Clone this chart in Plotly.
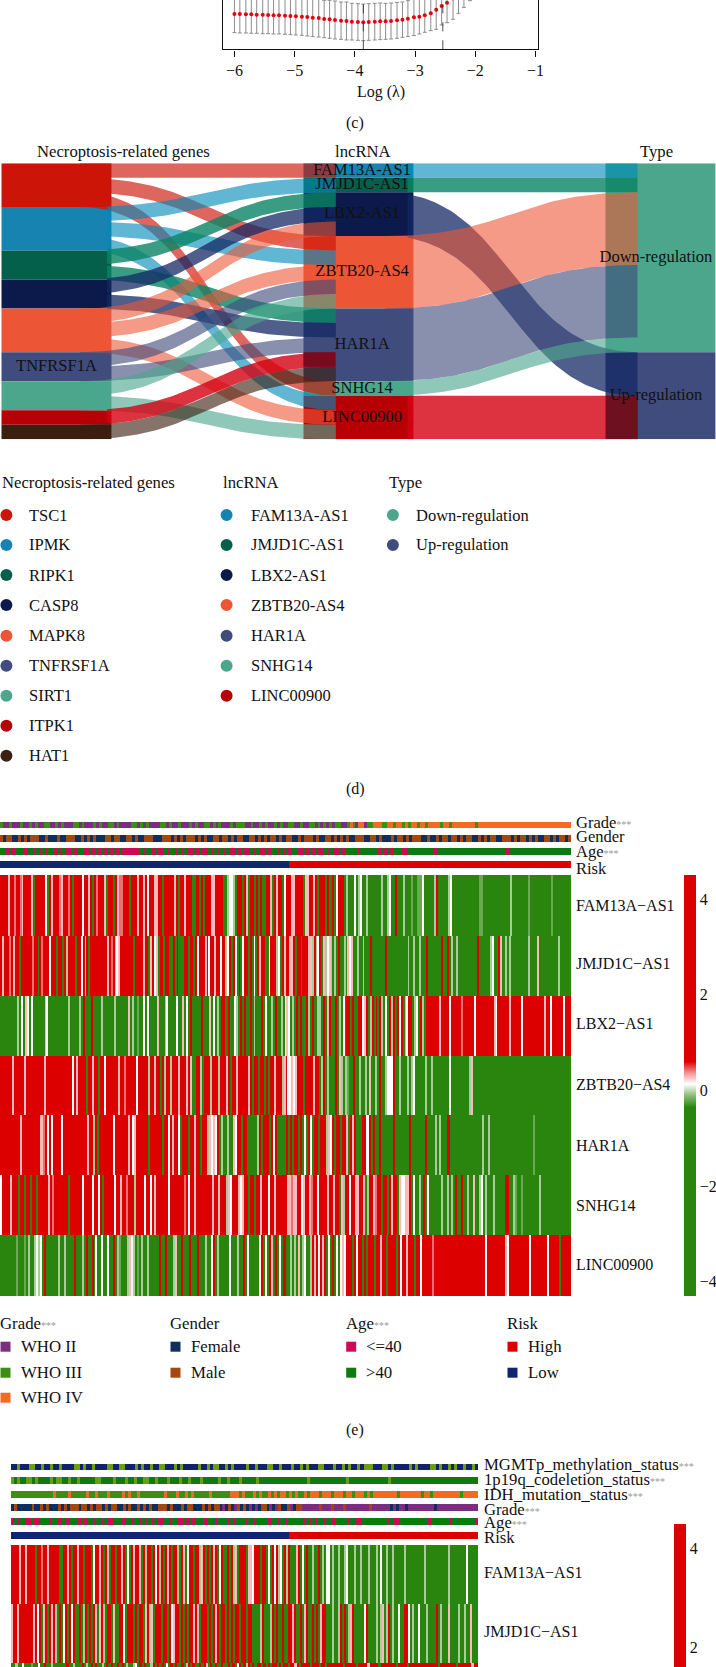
import numpy as np
import plotly.graph_objects as go

W, H = 716, 1667
SERIF = "Liberation Serif"
STAR = '<span style="color:#9a9a9a;font-size:10px">***</span>'

# ---- panel (c): cross-validation curve ----
log_lambda = [-6.00,-5.91,-5.81,-5.72,-5.63,-5.53,-5.44,-5.35,-5.26,-5.16,-5.07,-4.98,-4.88,-4.79,-4.70,-4.60,-4.51,-4.42,-4.33,-4.23,-4.14,-4.05,-3.95,-3.86,-3.77,-3.67,-3.58,-3.49,-3.40,-3.30,-3.21,-3.12,-3.02,-2.93,-2.84,-2.74,-2.65,-2.56,-2.47,-2.37,-2.28,-2.19,-2.09]
cv_mean = [106,106,105,105,104,104,103,102,102,101,100,99,98,97,95,94,91,90,88,86,85,83,82,81,82,83,84,84,85,87,89,92,96,98,102,108,119,130,140,153,166,180,194]
cv_low = [50,49,49,48,48,47,47,46,46,45,44,43,42,40,38,37,35,33,31,30,28,28,27,26,27,28,29,30,31,33,36,38,41,46,51,56,60,73,80,90,108,126,146]
lambda_min, lambda_1se = -3.86, -2.54

# ---- panel (d): alluvial ----
genes = ["TSC1","IPMK","RIPK1","CASP8","MAPK8","TNFRSF1A","SIRT1","ITPK1","HAT1"]
gene_colors = ["#CC1408","#1783B0","#04604A","#0B1A4B","#EC5637","#3F4C7D","#4BA68C","#B60006","#3B1F10"]
lncs = ["FAM13A-AS1","JMJD1C-AS1","LBX2-AS1","ZBTB20-AS4","HAR1A","SNHG14","LINC00900"]
lnc_colors = ["#1783B0","#04604A","#0B1A4B","#EC5637","#3F4C7D","#4BA68C","#B60006"]
types = ["Down-regulation","Up-regulation"]
type_colors = ["#4BA68C","#3F4C7D"]
flow_colors = {"#CC1408":"rgba(204,20,8,0.65)","#1783B0":"rgba(0,137,186,0.62)","#04604A":"rgba(9,132,100,0.80)",
               "#0B1A4B":"rgba(20,40,100,0.75)","#EC5637":"rgba(236,86,55,0.60)","#3F4C7D":"rgba(63,76,125,0.62)",
               "#4BA68C":"rgba(75,166,140,0.62)","#B60006":"rgba(212,0,16,0.80)","#3B1F10":"rgba(59,31,16,0.62)"}
recolored = {"#1783B0","#04604A","#0B1A4B","#B60006"}
gene_links = {
    "TSC1":["FAM13A-AS1","ZBTB20-AS4","SNHG14"],
    "IPMK":["JMJD1C-AS1","ZBTB20-AS4","LINC00900"],
    "RIPK1":["LBX2-AS1","HAR1A"],
    "CASP8":["LBX2-AS1","HAR1A"],
    "MAPK8":["LBX2-AS1","ZBTB20-AS4","LINC00900"],
    "TNFRSF1A":["ZBTB20-AS4","HAR1A"],
    "SIRT1":["ZBTB20-AS4","LINC00900"],
    "ITPK1":["HAR1A"],
    "HAT1":["HAR1A"],
}
lnc_type = {"FAM13A-AS1":"Down-regulation","JMJD1C-AS1":"Down-regulation","LBX2-AS1":"Up-regulation",
            "ZBTB20-AS4":"Down-regulation","HAR1A":"Down-regulation","SNHG14":"Down-regulation","LINC00900":"Up-regulation"}
lnc_counts = [1,1,3,5,5,1,3]
gene_counts = [3,3,2,2,3,2,2,1,1]
type_counts = [13,6]

# ---- panel (e): heatmap, R/r/p/w/l/g/G run from strong red through white to strong green ----
e_rows = ["FAM13A\u2212AS1","JMJD1C\u2212AS1","LBX2\u2212AS1","ZBTB20\u2212AS4","HAR1A","SNHG14","LINC00900"]
e_heat = [
"RRRRpRRrRRrpRRRRpGRRRRRwGRpRRRrpRRRrRGRRRRwRRpRGRrRRRpGRRRGRprrRRRGRRRpRRpRwRRRppRRGRRRRRpRGRRpRRRGGRRGRGRRRppRRRRGGlwwlGRRRGRpGRRGRGRG"
"GRRpGRpRRGwRRRppRRRRGppRRpRGRRRGRGGRGwRRRGlGGGwGlwGGlGGGGGGGlGGlwGGRGGGlGGGgGGgggwGGGGGlRGGGGGlwGGGGGGGGGGGGGGggGGGGGGGGGGGGGGlGGGGGGGGgGGGGGGGGGGGgGGGGGGGGG",
"RpRRRrRpRRGRRRRRRrRRGRrRRRwRRRGRRGRlRRRRGRRwRpRGRRRRRRRRRpRrRpwpRRRRRRRGRRRRpRRGpRwpGRRGRRGGRGRGGGRRGRRGRwRRRpRwRRpRRwRRlwRGRwGRGwRRGRG"
"wGRpRRGGwRRRlwGRpRRppRGRRGRRRpplRlwRGplwplGlGRGGlGpwpGGlGGlGGGRGGGGGGGRGGGGGGGGGGGlGGlGGlGGGRGGGGGGGRGGRGlGGlGGGGGGGGGGRGGGGGGlwGGRpGGlGlGGGGGGGGGlGGGGpGGGGGGGGGGlGGGGGG",
"GGGGGGGGGlGwGpwGwGGGGGGpwGGGGGGGGGGlGGGGGlGRGGGRGGGGlGGGGGGlGGGGGGpGlGGgGGwGwGGGGpGGGlwGGGGwGGpGwGRGGGGGRGGGpGwGlGRRGGRGGwlGRGRGGRGlGGGRGwGGlGRGG"
"lGwpwGlGRGRGGRlGRGGllGRGpRGGRGlGwGRRGRGGRRwpRGlRGRGRlGwGRlRGRwRGlwRRGlwGRlGRRRRRRRpRRRRwRRRRRrRRRRRRwRRRRRRRRRpwRRRRRRpRRRRRwRRRRRRRRRRRpRRwRRRRRRwRRR",
"RRRRRRpRRRRRpRRRRRRRRRpRRRRRRRRRRRRRwRpRRRRGRRpRRGRRwRRRRRRpRRrRRRRRwRRRRRlRRpRRGRlRRlRRRpRRRpRpGGRRlGRRRlRRRlRRRpRGRRpRRRRRpRGRRGRRGRG"
"RRpRRRlpRwwpwpRRRGRRRRpRRGlRGlGGGRGplGlgGGRGGlGGlGpGGlGRGGlwwwRGGlGGGlGlwGGGGGlGGlGGGGGGGGwGGGGGGGGGlpGGGGGGGGGGGGGGGGGGGGGGGGGGGGGGGGGGGGGGGGGGGGGGGGG",
"RRRRRRRRRRpRRRRRRRRRprRwRwRRRRwRRRRRRRRRRRRpRRlRGRRRRRRRwRRRRRRpRwpRRRRRRGRRRRRRGRRwRpRRwGRRRGRRpRRGRRlpwpwRGlGGlGGpwRRGRRGGGGGlRGRRRGRwRGG"
"GGRGRGRRGRGwGRwGRRGRRRlpwRGRRGRRpGRpRGGGRRwRGRGGRGGGGGGRGGGGGGGRGGGGGGGRGGGGlGlGGGRGGGGGGGGGGGGGGGGlGGlGGGGGGGGGGGGGGGGGGGGGgGGGGGGGGGGGGGGGGGG",
"wRRRRpRRRGRRGRRGRRGRRRRRpRrRRRRRRRGRRRRRRwRRRRwRRwRGRRRRRwRRpRRrRRRlRRRRwRRwRpRRRRRRwRRRRRRRrRwRRpRRRRRRRRpRRpRRRlpwRRRpwpRRGRRGRRpRRRwRRpRRRRRRp"
"prppRRwpRRprRRwRRRRpRRpRRGplRRwRRppRRpGlRRprRRGRRGRpRRGpwwppRGwGGlGRGwGGGGGGlGGlGlGRGGRGGlGGpGGlwGlGGGlGGGGGRRGGlgGGgGGGGGGGGlGGGGGGGGGGGGGGG",
"GGGGGGGGgGGGgGlGGlwlwGRGGGGGGlGGlGGGGRGGGlGRGGRGwGGwGGwGGRGlgGGGlpwlGgGlGGlGGGGGRGGRGGGlpGGRGGGRGGGRGGGlGGwRGlGGGGGwGGGlGGRGwGGGGGwRGwGRpGRGwGRRG"
"GlGlGpGlwGGlRpRwRpRGwGRGwGwpwRRRGRwRRGRGRRRGRRpRRGRRRRGRwRRpRRRGRRwRRRRRrRRRRRRRRRRRRRRRRRRRRRRRRRRwRRRRRRRRRpwRRRRRRRRRRwRRRRRRRRwRRRRRGRRRRR",
]
e_strips = [
("Grade"+STAR, "NPPNPPPNPPNPNPPNNPPNPNPPPNNPNPPPNPNPPNNPNPPPPNNPNPNPPPPNNPNPPNPPPNPNPPNNPNPNPPPNPNNNPPNPPNPNPPNPNPPNNPPNPPNNPNPNPNPNNPPNONPOOPNNOOONNOONOONONOONOONOOOONOONOOOOOOOONOOOOOOOOOOOOOOOOOOOOOOOOOOOOOOOO",
 {"P":"#7B2D7F","N":"#3B8F13","O":"#F26B21"}),
("Gender", "MFMMFFMFMFMMMFFMFFFMFFMMMFFMFMFMFFFMMFMMFFMMFMFFMMMFFFMMMFMFMFMMMFMFMFFMMFMMFMFMMFFMMFMFMFMMFMFMMFFMFMMMFMFFMMFMFMFMFFMMMFFMMFMFFFMFMMFMFMMMFFMFFMFMMFMMFMFMMFFMFMFMMFFMMMFMFMMFMFMFFMMFMFMMFM",
 {"F":"#0F2E5E","M":"#A5470F"}),
("Age"+STAR, "AAYAYAAAYAAYAYAYAAYAYAYYAYAAYYAYAYAYAYAYAYYYYYYAYAAYAYYAYAAYAYAYYAYAYYAYAYAYAYYAYAYYAYAYYAYAAYAYAYAAYYAYAYAYYAYAYYAYAAAAYAAAAAAYAYAYAAAYYAAAAAAAAAYAAAAAAAAAAAAAAAAAAAAAAAYAAAAAAAAAAAAAAAAAAAAA",
 {"Y":"#CC0A55","A":"#0B7A12"}),
("Risk", "LLLLLLLLLLLLLLLLLLLLLLLLLLLLLLLLLLLLLLLLLLLLLLLLLLLLLLLLLLLLLLLLLLLLLLLLLLLLLLLLLLLLLLLLLLLLLHHHHHHHHHHHHHHHHHHHHHHHHHHHHHHHHHHHHHHHHHHHHHHHHHHHHHHHHHHHHHHHHHHHHHHHHHHHHHHHHHHHHHHHHHHH",
 {"L":"#0F2570","H":"#DD0000"}),
]

# ---- panel (f): second heatmap, cut off by the page bottom ----
f_rows = ["FAM13A\u2212AS1","JMJD1C\u2212AS1","LBX2\u2212AS1"]
f_heat = [
"RRRRpRRpRRRRGRRrRRpRRRRRGGRRpRGRRpRRGRRRGwRRpRGRpGRRGRRpRGwGRpRRpGRlRRGRwRlRGRpRGRRlGRpGwRRGRRlpRGRGRpRGwRGGRGRlpGRRRGppwRRRGRRGwGRwRlwGRlRGGGpRGwGRGGlGGRGlGwwGlGGlGGlwGGGlGGlGGGlGGGlGwGGlGGlGGGGGlGGGGGGGGGlGGGGGGGGGGGlGGGGGGGGwGGGGG",
"pRRpRRRRRRRpRwRGpRGRpRlGRGwRGRwRGGRGlRGRGRpGpRlGRRGpGGRRwGRRRGRGRRGpRlpGRRRGRRGRwpRRGRGRGRRpRpGRRRGRGRpRGRRGRGRGRRGRRGRRGGGGlRGGGlRGRGGRGGRRpRGGRGpRGGRGRGpRRGGGlGGlRGRGlpRGGGGGwRGGGGlGlpGlRGlGGwGGRRwGlGGwGGGlGGGGRGlGGGpGGGGlGGlGGpGGG",
"GGlGGwGGGgGGwGGRGGlGGGGGGRGGlGGGRGlGRGRGGlGRGRGGRGRGlGGlwGRGRGGlRGRGRGwGRGRGGRGlRGRGGRGRpGRGRGGRGGRGRGwRGRlRGRGRRGRGRGRRGRGRRGRRpRGRRRRGRRRGRRGRRRRRRRGRRRRRGRRRRpRRRRGRRRRRRRGRRRRGRRRRRRRRRRRRRGRRRRRRRGRRRRRRpRR",
]
f_strips = [
("MGMTp_methylation_status"+STAR, "NNYNNNYYNNYNNYNNYNNNNYYNYNNYNNNNYYNNYYNNNYNYNNYNNYYNNNYNYNNNNNYNNYNYYNNYNYNNNNYNNYNNNYYNNYNNNYNNYNYNNNYYNNNYNNYNYNNYNYYYNNNYYNYNNNNNYNYNNNNYYNYNNYNYNNYNNYN",
 {"N":"#13206A","Y":"#6A9F12"}),
("1p19q_codeletion_status"+STAR, "YDYDDYYDYDDDDYDYYDDYDDYDDDDDYYDDDDYDDDYDDYDDYYDDYDDDYDDDYDDYDDDYDDDDDYDDYDDDYDDDDDYDDDDDDDDDDDDDDDDYDDDDDDDDDDDDYDDDDDDDDDDDDDYDDDDDDDDDDDDDDDDDDDDDDDDDDDDD",
 {"D":"#0F7A10","Y":"#6A9F12"}),
("IDH_mutation_status"+STAR, "GGGGGGGGGGGGGGOGGGGOGGGGGOGGOGGGOGGGGOGOGGOGGGGGGGGOGGGOGGOGOGGGGGOGGGGGGOOOGOGGGOGOGGOGOGOOGOGOGGOGOOOGOOOGOOOGOOGOOOGOGOOOOOOOOGOOOOOOOGOOGOOOOOOOOOGOOOOO",
 {"G":"#3B8F13","O":"#F26B21"}),
("Grade"+STAR, "NBNNNNNBNNBNBNNNBNBNBBBNBBNBNBBNBNBBNNBNBNNBNBNBNNBBBNBNNNBNBBNNNBNBNBBNPNBNPBNBNPNPNBBNPNPBNNBPNBBPPPPPPBPPPBPPPBPPPPPPPPBPPPPPPNPNPPNPPPPPPPPPNPPPPPPPPPPPPPP",
 {"N":"#0F2E5E","B":"#A5470F","P":"#7B2D7F"}),
("Age"+STAR, "CACAACCACCAAACAACAACAAACACAACAACACCAAACAACAACACACACCAACAACCACACAAACAAACAAACACAAACAACAAAACAACAACAAAAACACACAACAACAAAACAACCAAAAAAAAACACCAAAAAAAAAACAAAAAACAAAAAAAAC",
 {"C":"#CC0A55","A":"#0B7A12"}),
("Risk", "LLLLLLLLLLLLLLLLLLLLLLLLLLLLLLLLLLLLLLLLLLLLLLLLLLLLLLLLLLLLLLLLLLLLLLLLLLLLLLLLLLLLLLLLLLLHHHHHHHHHHHHHHHHHHHHHHHHHHHHHHHHHHHHHHHHHHHHHHHHHHHHHHHHHHHHHH",
 {"L":"#0F2570","H":"#DD0000"}),
]
code_values = {"R":3.0,"r":0.42,"p":0.28,"w":0.13,"l":-0.05,"g":-0.2,"G":-3.0}

e_legend = [
 ("Grade"+STAR, [("WHO II","#7B2D7F"),("WHO III","#3B8F13"),("WHO IV","#F26B21")]),
 ("Gender", [("Female","#0F2E5E"),("Male","#A5470F")]),
 ("Age"+STAR, [("<=40","#CC0A55"),(">40","#0B7A12")]),
 ("Risk", [("High","#DD0000"),("Low","#0F2570")]),
]

# ---------------- figure ----------------
fig = go.Figure()
layout = dict(width=W, height=H, paper_bgcolor="white", plot_bgcolor="white", showlegend=False,
              margin=dict(l=0, r=0, t=0, b=0, autoexpand=False), font=dict(family=SERIF, color="#111"),
              hovermode=False)
ann, shapes = [], []
axis_id = [0]

def new_axes(x0, x1, y0, y1, xrange, yrange):
    axis_id[0] += 1
    n = axis_id[0]
    sx = "" if n == 1 else str(n)
    hidden = dict(visible=False, fixedrange=True)
    layout["xaxis"+sx] = dict(hidden, domain=[x0/W, x1/W], range=xrange, anchor="y"+sx)
    layout["yaxis"+sx] = dict(hidden, domain=[1-y1/H, 1-y0/H], range=yrange, anchor="x"+sx)
    return "x"+sx, "y"+sx, sx

def text(x, y, s, size=16.5, anchor="left"):
    xpos = x-2 if anchor == "left" else x
    ann.append(dict(x=xpos/W, y=1-y/H, xref="paper", yref="paper", text=s, showarrow=False,
                    xanchor=anchor, yanchor="middle", font=dict(family=SERIF, size=size, color="#111")))

def swatch(x0, y0, x1, y1, color, kind="rect"):
    shapes.append(dict(type=kind, xref="paper", yref="paper", x0=x0/W, x1=x1/W, y0=1-y0/H, y1=1-y1/H,
                       fillcolor=color, line=dict(width=0)))

# panel c
xa, ya, sx = new_axes(223.4, 538, 0, 49.3, [-6.183, -0.96], [0, 148])
layout["xaxis"].update(visible=True, showline=True, linecolor="#111", linewidth=1.4, ticks="outside", ticklen=6,
                       tickwidth=1, tickcolor="#111", tickvals=[-6,-5,-4,-3,-2,-1], showgrid=False, zeroline=False,
                       tickfont=dict(family=SERIF, size=16, color="#111"))
layout["yaxis"].update(visible=True, showline=True, mirror=True, linecolor="#111", linewidth=1.4, ticks="",
                       showticklabels=False, showgrid=False, zeroline=False)
cv_se = (np.array(cv_mean) - np.array(cv_low)).tolist()
fig.add_trace(go.Scatter(x=log_lambda, y=cv_mean, mode="markers", xaxis=xa, yaxis=ya,
                         marker=dict(color="#E8000F", size=4),
                         error_y=dict(type="data", array=cv_se, color="#8c8c8c", thickness=1, width=2)))
for v in (lambda_min, lambda_1se):
    shapes.append(dict(type="line", xref="x", yref="y", x0=v, x1=v, y0=0, y1=148,
                       line=dict(color="#222", width=0.8, dash="dash")))
text(381, 92, "Log (\u03bb)", 16, "center")
text(355, 122.7, "(c)", 16, "center")

# panel d
xa, ya, sx = new_axes(0, W, 163.3, 439.3, [-0.187, 2.184], [19, 0])
def bars(col, counts, colors):
    base = np.cumsum([0]+counts[:-1])
    fig.add_trace(go.Bar(x=[col]*len(counts), y=counts, base=base.tolist(), width=0.364, marker=dict(color=colors, line=dict(width=0)),
                         xaxis=xa, yaxis=ya))
    return {i: int(b) for i, b in enumerate(base)}
b0 = bars(0, gene_counts, gene_colors)
b1 = bars(1, lnc_counts, lnc_colors)
b2 = bars(2.0, type_counts, type_colors)

def flow(x0, x1, y0, y1, color, height=1, clip=None):
    t = np.linspace(0, 1, 80)
    xm = (x0+x1)/2
    bx = (1-t)**3*x0 + 3*(1-t)**2*t*xm + 3*(1-t)*t**2*xm + t**3*x1
    by_top = (1-t)**3*y0 + 3*(1-t)**2*t*y0 + 3*(1-t)*t**2*y1 + t**3*y1
    if clip is not None:
        keep = bx >= clip
        bx, by_top = bx[keep], by_top[keep]
    xs = np.concatenate([bx, bx[::-1]])
    ys = np.concatenate([by_top, by_top[::-1]+height])
    fig.add_trace(go.Scatter(x=xs, y=ys, mode="lines", line=dict(width=0), fill="toself", fillcolor=flow_colors[color],
                             xaxis=xa, yaxis=ya, hoverinfo="skip"))

lnc_fill = {n: 0 for n in lncs}
for gi, g in enumerate(genes):
    for k, target in enumerate(gene_links[g]):
        li = lncs.index(target)
        c = gene_colors[gi]
        flow(0.078, 0.925, b0[gi]+k, b1[li]+lnc_fill[target], c, clip=0.16 if c in recolored else None)
        lnc_fill[target] += 1
type_fill = {t: 0 for t in types}
linc_end = 0
for li, n in enumerate(lncs):
    ti = types.index(lnc_type[n])
    c = lnc_colors[li]
    if n == "LINC00900":
        linc_end = b2[ti]+type_fill[types[ti]]
    flow(1.088, 1.924, b1[li], b2[ti]+type_fill[types[ti]], c, lnc_counts[li], clip=1.16 if c in recolored else None)
    type_fill[types[ti]] += lnc_counts[li]

# darker segments where the two strongest red flows land on their strata
def segment(col, y0, height, color):
    half = 0.053
    fig.add_trace(go.Scatter(x=[col-half, col+half, col+half, col-half], y=[y0, y0, y0+height, y0+height],
                             mode="lines", line=dict(width=0), fill="toself", fillcolor=color, xaxis=xa, yaxis=ya, hoverinfo="skip"))
segment(0.871, b1[lncs.index("HAR1A")]+3, 1, "#7A0A20")
segment(1.872, linc_end, 3, "#6F1020")

def labels(col, names, counts, base, only=None, size=16.5):
    xs, ys, ts = [], [], []
    for i, n in enumerate(names):
        if only and n not in only:
            continue
        xs.append(col); ys.append(base[i]+counts[i]/2); ts.append(n)
    fig.add_trace(go.Scatter(x=xs, y=ys, text=ts, mode="text", textposition="middle center",
                             textfont=dict(family=SERIF, size=size, color="#111"), xaxis=xa, yaxis=ya))
labels(0, genes, gene_counts, b0, only={"TNFRSF1A"})
labels(1.012, lncs, lnc_counts, b1)
labels(1.985, types, type_counts, b2)
text(123.6, 152, "Necroptosis-related genes", 16.7, "center")
text(363, 152, "lncRNA", 16.7, "center")
text(656, 152, "Type", 16.7, "center")

# legend d
def dot_legend(x_title, x_dot, x_text, title, names, colors):
    text(x_title+2, 482.7, title, 16.7)
    ys = [515, 545, 575, 605, 635.7, 665.7, 695.7, 725.7, 755.7]
    for n, c, y in zip(names, colors, ys):
        swatch(x_dot-6, y-6, x_dot+6, y+6, c, "circle")
        text(x_text, y, n, 16.5)
dot_legend(0, 6.4, 29.3, "Necroptosis-related genes", genes, gene_colors)
dot_legend(221, 226.6, 251, "lncRNA", lncs, lnc_colors)
dot_legend(387, 392.9, 416, "Type", types, type_colors)
text(355.8, 789, "(d)", 16, "center")

# heat helpers
def nv(v):
    return (v+4.3)/8.8
stops = [[0, "#2A850E"], [nv(-0.36), "#2A850E"], [nv(-0.1), "#8FBF7C"], [nv(0.13), "#FFFFFF"],
         [nv(0.35), "#F59A9A"], [nv(0.6), "#DD0000"], [1, "#DD0000"]]

def heat_row(row, x0, x1, y0, y1, cax, yrange=None):
    z = [[code_values[c] for c in row]]
    xa, ya, sx = new_axes(x0, x1, y0, y1, [-0.5, len(row)-0.5], yrange or [-0.5, 0.5])
    fig.add_trace(go.Heatmap(z=z, coloraxis=cax, xaxis=xa, yaxis=ya, hoverinfo="skip"))

def strip(row, cmap, x0, x1, y0, y1):
    keys = list(cmap)
    z = [[keys.index(c) for c in row]]
    n = len(keys)
    cs = []
    for i, k in enumerate(keys):
        cs += [[i/n, cmap[k]], [(i+1)/n, cmap[k]]]
    xa, ya, sx = new_axes(x0, x1, y0, y1, [-0.5, len(row)-0.5], [-0.5, 0.5])
    fig.add_trace(go.Heatmap(z=z, zmin=-0.5, zmax=n-0.5, colorscale=cs, showscale=False, xaxis=xa, yaxis=ya, hoverinfo="skip"))

def cbar(x, y_top, length):
    return dict(thickness=12, thicknessmode="pixels", lenmode="pixels", len=length, x=x/W, xanchor="left", y=1-y_top/H, yanchor="top",
                outlinewidth=0, ticks="", tickvals=[-4,-2,0,2,4], tickfont=dict(family=SERIF, size=16, color="#111"), xpad=0, ypad=0)

# panel e
e_strip_y = [(822,828),(835,842),(848,855),(861,868)]
e_label_y = [823, 836.7, 851, 868]
for (lab, row, cmap), (y0, y1), ly in zip(e_strips, e_strip_y, e_label_y):
    strip(row, cmap, 0, 571.4, y0, y1)
    text(576, ly, lab, 16.5)
e_edges = [875, 936, 996, 1056, 1115, 1175, 1235, 1296]
e_label = [905, 963, 1023, 1084, 1145, 1205, 1264]
for i, row in enumerate(e_heat):
    heat_row(row, 0, 571.4, e_edges[i], e_edges[i+1], "coloraxis")
    text(576, e_label[i], e_rows[i], 16)
layout["coloraxis"] = dict(colorscale=stops, cmin=-4.3, cmax=4.5, colorbar=cbar(684, 875, 421))

lx = [(0,21),(170,191.4),(345.7,366),(507,527.5)]
ly = [1346.7, 1372.7, 1397.7]
for (title, items), (x0, xt) in zip(e_legend, lx):
    text(x0, 1323, title, 16.8)
    for (n, c), y in zip(items, ly):
        swatch(x0+0.5, y-5, x0+10.5, y+5, c)
        text(xt, y, n, 16.8)
text(355, 1430, "(e)", 16, "center")

# panel f
f_strip_y = [(1464,1470),(1477,1484),(1491,1498),(1504,1511),(1518,1525),(1532,1539)]
f_label_y = [1464, 1479, 1494, 1509, 1522, 1537.7]
for (lab, row, cmap), (y0, y1), ly_ in zip(f_strips, f_strip_y, f_label_y):
    strip(row, cmap, 11, 478, y0, y1)
    text(484.4, ly_, lab, 16.7)
f_edges = [1545, 1604, 1663, 1667]
f_label = [1572, 1631.7]
for i, row in enumerate(f_heat):
    yr = None if i < 2 else [0.5-4/59, 0.5]
    heat_row(row, 11, 478, f_edges[i], f_edges[i+1], "coloraxis2", yr)
    if i < 2:
        text(484.4, f_label[i], f_rows[i], 16)
layout["coloraxis2"] = dict(colorscale=stops, cmin=-4.3, cmax=4.5, colorbar=cbar(674, 1524, 436))

layout["annotations"] = ann
layout["shapes"] = shapes
layout["barmode"] = "overlay"
fig.update_layout(**layout)
fig.write_html("out.html", config={"displayModeBar": False},
               post_script="document.body.style.margin='0';document.body.style.overflow='hidden';")
